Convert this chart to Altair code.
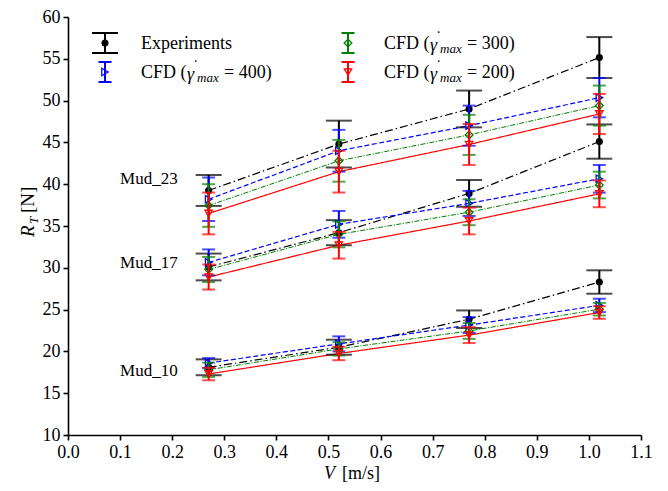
import altair as alt
import pandas as pd

FONT = "Liberation Serif"

speeds = [0.27, 0.52, 0.77, 1.02]
muds = ["Mud_10", "Mud_17", "Mud_23"]
mud_label_y = [17, 30, 40]
mud_label_x = 0.1

# Experiments
exp_mud10 = [18.1, 20.5, 23.85, 28.3]
exp_mud10_err = [0.95, 0.9, 1.05, 1.4]
exp_mud17 = [30.1, 34.2, 38.9, 45.1]
exp_mud17_err = [1.6, 1.5, 1.6, 2.05]
exp_mud23 = [39.25, 44.8, 49.0, 55.15]
exp_mud23_err = [1.85, 2.8, 2.2, 2.45]

# CFD gamma_max = 400
c400_mud10 = [18.6, 20.9, 23.15, 25.5]
c400_mud10_err = [0.6, 0.9, 0.95, 0.8]
c400_mud17 = [30.65, 35.2, 37.7, 40.65]
c400_mud17_err = [1.55, 1.6, 1.5, 1.65]
c400_mud23 = [38.2, 44.0, 47.0, 50.35]
c400_mud23_err = [2.6, 2.5, 2.4, 2.35]

# CFD gamma_max = 300
c300_mud10 = [17.8, 20.3, 22.45, 25.05]
c300_mud10_err = [0.85, 0.8, 0.95, 0.75]
c300_mud17 = [29.8, 34.0, 36.65, 39.9]
c300_mud17_err = [1.5, 1.55, 1.55, 1.6]
c300_mud23 = [37.45, 42.8, 45.9, 49.4]
c300_mud23_err = [2.55, 2.5, 2.4, 2.4]

# CFD gamma_max = 200
c200_mud10 = [17.3, 19.75, 21.95, 24.65]
c200_mud10_err = [0.75, 0.8, 0.95, 0.75]
c200_mud17 = [28.9, 32.7, 35.6, 38.85]
c200_mud17_err = [1.5, 1.6, 1.6, 1.6]
c200_mud23 = [36.5, 41.5, 44.75, 48.4]
c200_mud23_err = [2.5, 2.5, 2.45, 2.4]

series = {
    "exp": dict(vals=[exp_mud10, exp_mud17, exp_mud23], errs=[exp_mud10_err, exp_mud17_err, exp_mud23_err],
                color="black", dash=[8, 3, 1.5, 3], lw=1.2, cap=26, shape="circle", filled=True, size=50),
    "c400": dict(vals=[c400_mud10, c400_mud17, c400_mud23], errs=[c400_mud10_err, c400_mud17_err, c400_mud23_err],
                 color="#0000ff", dash=[5, 2.5], lw=1.2, cap=13, shape="triangle-right", filled=False, size=55),
    "c300": dict(vals=[c300_mud10, c300_mud17, c300_mud23], errs=[c300_mud10_err, c300_mud17_err, c300_mud23_err],
                 color="#008000", dash=[5, 1.5, 1.2, 1.5], lw=1.0, cap=13, shape="diamond", filled=False, size=60),
    "c200": dict(vals=[c200_mud10, c200_mud17, c200_mud23], errs=[c200_mud10_err, c200_mud17_err, c200_mud23_err],
                 color="#ff0000", dash=[1, 0], lw=1.2, cap=13, shape="triangle-down", filled=False, size=55),
}

rows = []
for key, s in series.items():
    for mud, vals, errs in zip(muds, s["vals"], s["errs"]):
        for v, y, e in zip(speeds, vals, errs):
            rows.append(dict(series=key, mud=mud, v=v, y=y, lo=y - e, hi=y + e))
df = pd.DataFrame(rows)

xaxis = alt.Axis(values=[round(i * 0.1, 1) for i in range(12)], format=".1f", title=None, grid=False,
                 domainColor="black", domainWidth=1.6, tickColor="black", tickWidth=1.6, tickSize=5,
                 labelFont=FONT, labelFontSize=18, labelColor="black", labelPadding=3,
                 labelFlush=False, labelOverlap=False)
yaxis = alt.Axis(values=list(range(10, 61, 5)), format="d", title=None, grid=False,
                 domainColor="black", domainWidth=1.6, tickColor="black", tickWidth=1.6, tickSize=5,
                 labelFont=FONT, labelFontSize=18, labelColor="black", labelPadding=3,
                 labelFlush=False, labelOverlap=False)
xs = alt.Scale(domain=[0, 1.1], nice=False, zero=False)
ys = alt.Scale(domain=[10, 60], nice=False, zero=False)

def X():
    return alt.X("v:Q", scale=xs, axis=xaxis)

base = alt.Chart(df)
layers = []
# lines
for key, s in series.items():
    d = base.transform_filter(alt.datum.series == key)
    layers.append(d.mark_line(color=s["color"], strokeDash=s["dash"], strokeWidth=s["lw"]).encode(
        x=X(), y=alt.Y("y:Q", scale=ys, axis=yaxis), detail="mud:N"))
# error bars and markers
for key, s in series.items():
    d = base.transform_filter(alt.datum.series == key)
    layers.append(d.mark_rule(color=s["color"], strokeWidth=2).encode(
        x=X(), y=alt.Y("lo:Q", scale=ys, axis=yaxis), y2="hi:Q"))
    layers.append(d.mark_tick(color=s["color"], orient="horizontal", size=s["cap"], thickness=2).encode(
        x=X(), y=alt.Y("lo:Q", scale=ys, axis=yaxis)))
    layers.append(d.mark_tick(color=s["color"], orient="horizontal", size=s["cap"], thickness=2).encode(
        x=X(), y=alt.Y("hi:Q", scale=ys, axis=yaxis)))
    if s["filled"]:
        pt = d.mark_point(shape=s["shape"], filled=True, color=s["color"], size=s["size"], opacity=1)
    else:
        pt = d.mark_point(shape=s["shape"], filled=False, color=s["color"], size=s["size"], strokeWidth=1.3, opacity=1)
    layers.append(pt.encode(x=X(), y=alt.Y("y:Q", scale=ys, axis=yaxis)))

# Mud labels
lab_df = pd.DataFrame({"v": [mud_label_x] * 3, "y": mud_label_y, "t": muds})
layers.append(alt.Chart(lab_df).mark_text(align="left", baseline="alphabetic", font=FONT, fontSize=17,
                                          color="black").encode(
    x=X(), y=alt.Y("y:Q", scale=ys, axis=yaxis), text="t:N"))

one = pd.DataFrame({"a": [0]})

def txt(s, x, y, size=18, italic=False, angle=0, align="left", baseline="middle"):
    kw = dict(align=align, baseline=baseline, font=FONT, fontSize=size, color="black")
    if italic:
        kw["fontStyle"] = "italic"
    if angle:
        kw["angle"] = angle
    return alt.Chart(one).mark_text(**kw).encode(x=alt.value(x), y=alt.value(y), text=alt.value(s))

# legend (manual, errorbar glyphs)
leg = [("exp", 37, 26, "Experiments"), ("c400", 37, 55, "400"),
       ("c300", 280, 26, "300"), ("c200", 280, 55, "200")]
for key, gx, gy, lab in leg:
    s = series[key]
    layers.append(alt.Chart(one).mark_rule(color=s["color"], strokeWidth=2).encode(
        x=alt.value(gx), y=alt.value(gy - 10), y2=alt.value(gy + 10)))
    for dy in (-10, 10):
        layers.append(alt.Chart(one).mark_rule(color=s["color"], strokeWidth=2).encode(
            x=alt.value(gx - s["cap"] / 2), x2=alt.value(gx + s["cap"] / 2), y=alt.value(gy + dy)))
    layers.append(alt.Chart(one).mark_point(shape=s["shape"], filled=s["filled"], color=s["color"],
                                            size=s["size"], strokeWidth=1.3, opacity=1).encode(
        x=alt.value(gx), y=alt.value(gy)))
    tx = gx + 36
    if key == "exp":
        layers.append(txt(lab, tx, gy + 1))
    else:
        layers.append(txt("CFD (", tx, gy + 1))
        layers.append(txt("\u03b3", tx + 46, gy + 3, italic=True))
        layers.append(txt("\u02d9", tx + 52, gy - 6, size=16))
        layers.append(txt("max", tx + 56, gy + 6, size=13, italic=True))
        layers.append(txt("= " + lab + ")", tx + 83, gy + 1))

# axis titles
layers.append(txt("V", 256, 462, size=18, italic=True, baseline="alphabetic"))
layers.append(txt("[m/s]", 274, 462, size=18, baseline="alphabetic"))
layers.append(txt("R", -34, 220, size=19, italic=True, angle=270, baseline="alphabetic"))
layers.append(txt("T", -30, 207, size=13, italic=True, angle=270, baseline="alphabetic"))
layers.append(txt("[N]", -34, 196, size=19, angle=270, baseline="alphabetic"))

chart = alt.layer(*layers).properties(
    width=573, height=418,
    autosize=alt.AutoSizeParams(type="none"),
    padding={"left": 60, "top": 9, "right": 19, "bottom": 48},
).configure(font=FONT).configure_axis(labelFont=FONT).configure_text(font=FONT).configure_view(stroke=None)

chart.save("out.html", embed_options={"renderer": "svg", "actions": False})
